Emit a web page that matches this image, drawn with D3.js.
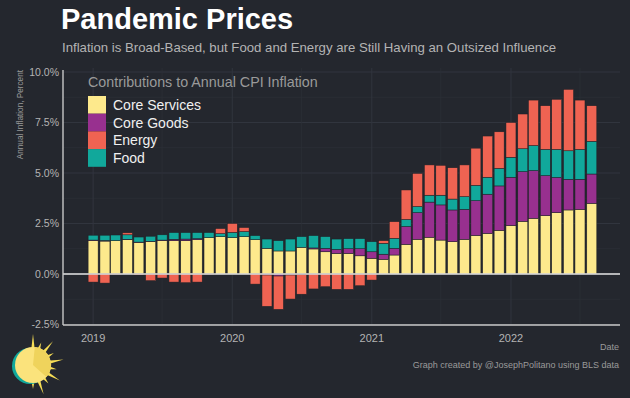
<!DOCTYPE html>
<html>
<head>
<meta charset="utf-8">
<script src="https://cdn.jsdelivr.net/npm/d3@7"></script>
<style>
  html, body { margin: 0; padding: 0; background: #24272e; }
  svg { display: block; font-family: "Liberation Sans", Arial, sans-serif; }
</style>
</head>
<body>
<div id="chart"></div>
<script>
// monthly contributions to YoY CPI, Jan 2019 - Aug 2022
var months = [
  "2019-01","2019-02","2019-03","2019-04","2019-05","2019-06","2019-07","2019-08","2019-09","2019-10","2019-11","2019-12",
  "2020-01","2020-02","2020-03","2020-04","2020-05","2020-06","2020-07","2020-08","2020-09","2020-10","2020-11","2020-12",
  "2021-01","2021-02","2021-03","2021-04","2021-05","2021-06","2021-07","2021-08","2021-09","2021-10","2021-11","2021-12",
  "2022-01","2022-02","2022-03","2022-04","2022-05","2022-06","2022-07","2022-08"
];
var coreServices = [
  1.65,1.63,1.65,1.70,1.56,1.60,1.65,1.65,1.65,1.70,1.80,1.85,
  1.80,1.85,1.70,1.27,1.14,1.14,1.32,1.24,1.10,1.02,1.02,0.90,
  0.78,0.73,0.94,1.47,1.72,1.82,1.68,1.60,1.72,1.91,2.01,2.16,
  2.40,2.61,2.76,2.89,3.04,3.17,3.20,3.50
];
var coreGoods = [
  0.03,0.03,0.00,0.02,0.02,0.02,0.03,0.07,0.08,0.05,0.00,0.00,
  0.00,0.00,0.00,-0.05,-0.10,-0.05,-0.03,0.05,0.17,0.20,0.23,0.35,
  0.32,0.25,0.33,0.88,1.32,1.74,1.74,1.57,1.48,1.72,1.94,2.20,
  2.39,2.46,2.36,1.98,1.74,1.52,1.49,1.45
];
var energy = [
  -0.40,-0.45,-0.02,0.10,-0.05,-0.33,-0.20,-0.40,-0.43,-0.40,-0.02,0.25,
  0.44,0.20,-0.50,-1.55,-1.65,-1.19,-0.97,-0.74,-0.63,-0.76,-0.76,-0.58,
  -0.30,0.13,0.82,1.46,1.64,1.50,1.48,1.55,1.57,1.84,2.04,1.81,
  1.72,1.72,2.25,2.16,2.48,3.04,2.44,1.76
];
var food = [
  0.24,0.26,0.28,0.22,0.25,0.25,0.26,0.33,0.32,0.30,0.25,0.15,
  0.26,0.25,0.20,0.46,0.51,0.59,0.53,0.61,0.58,0.51,0.50,0.50,
  0.50,0.54,0.50,0.35,0.30,0.34,0.48,0.54,0.63,0.76,0.84,0.87,
  0.99,1.13,1.24,1.30,1.39,1.41,1.48,1.62
];
var seriesNames = ["Core Services", "Core Goods", "Energy", "Food"];
var seriesColors = ["#fde98c", "#98308f", "#ef6352", "#11a89b"];
var yTicks = [-2.5, 0, 2.5, 5, 7.5, 10];
var xTickYears = ["2019", "2020", "2021", "2022"];

var W = 630, H = 398;
var bg = "#24272e";
var parse = d3.timeParse("%Y-%m");

var rows = months.map(function (m, i) {
  return {
    date: parse(m),
    "Core Services": coreServices[i],
    "Core Goods": coreGoods[i],
    "Food": food[i],
    "Energy": energy[i]
  };
});

var svg = d3.select("#chart").append("svg")
  .attr("width", W)
  .attr("height", H);

svg.append("rect").attr("width", W).attr("height", H).attr("fill", bg);

var plot = { left: 63, right: 620, top: 68, bottom: 325 };

var x = d3.scaleTime()
  .domain([new Date(2018, 9, 14), new Date(2022, 9, 14)])
  .range([plot.left, plot.right]);

var y = d3.scaleLinear()
  .domain([-2.5, 10])
  .range([324.5, 72]);

// grid
var grid = svg.append("g");
var minorY = d3.range(-2.5, 10.01, 1.25);
grid.selectAll(".hg").data(minorY).enter().append("line")
  .attr("x1", plot.left).attr("x2", plot.right)
  .attr("y1", function (d) { return y(d); })
  .attr("y2", function (d) { return y(d); })
  .attr("stroke", function (d, i) { return i % 2 ? "#2c3038" : "#31353e"; })
  .attr("stroke-width", function (d, i) { return i % 2 ? 0.7 : 1; });

var vDates = [];
for (var yr = 2019; yr <= 2022; yr++) {
  vDates.push({ d: new Date(yr, 0, 1), major: true });
  vDates.push({ d: new Date(yr, 6, 1), major: false });
}
grid.selectAll(".vg").data(vDates).enter().append("line")
  .attr("x1", function (d) { return x(d.d); })
  .attr("x2", function (d) { return x(d.d); })
  .attr("y1", plot.top).attr("y2", plot.bottom)
  .attr("stroke", function (d) { return d.major ? "#31353e" : "#2c3038"; })
  .attr("stroke-width", function (d) { return d.major ? 1 : 0.7; });

// stacked bars
var keys = ["Core Services", "Core Goods", "Food", "Energy"];
var stack = d3.stack().keys(keys).offset(d3.stackOffsetDiverging);
var layers = stack(rows);
var colorOf = d3.scaleOrdinal().domain(seriesNames).range(seriesColors);
var bw = 10;

svg.append("g").selectAll("g").data(layers).enter().append("g")
  .attr("fill", function (d) { return colorOf(d.key); })
  .selectAll("rect").data(function (d) { return d; }).enter().append("rect")
  .attr("x", function (d) { return x(d.data.date) - bw / 2; })
  .attr("width", bw)
  .attr("y", function (d) { return y(Math.max(d[0], d[1])); })
  .attr("height", function (d) { return Math.abs(y(d[0]) - y(d[1])); })
  .attr("stroke", "#1f2126")
  .attr("stroke-width", 0.5);

// zero line
svg.append("line")
  .attr("x1", plot.left).attr("x2", plot.right)
  .attr("y1", y(0)).attr("y2", y(0))
  .attr("stroke", "#e4e4e4").attr("stroke-width", 1.6);

// axes lines
svg.append("line")
  .attr("x1", plot.left).attr("x2", plot.left)
  .attr("y1", plot.top + 2).attr("y2", plot.bottom)
  .attr("stroke", "#c8c8c8").attr("stroke-width", 1.4);
svg.append("line")
  .attr("x1", plot.left).attr("x2", plot.right)
  .attr("y1", plot.bottom).attr("y2", plot.bottom)
  .attr("stroke", "#c8c8c8").attr("stroke-width", 1.4);

// y tick labels
svg.append("g").selectAll("text").data(yTicks).enter().append("text")
  .attr("x", 59)
  .attr("y", function (d) { return y(d); })
  .attr("dy", "0.36em")
  .attr("text-anchor", "end")
  .attr("fill", "#b4b4b4")
  .attr("font-size", 10.5)
  .text(function (d) { return d.toFixed(1) + "%"; });

// x tick labels
svg.append("g").selectAll("text").data(xTickYears).enter().append("text")
  .attr("x", function (d) { return x(new Date(+d, 0, 1)); })
  .attr("y", 338)
  .attr("dy", "0.36em")
  .attr("text-anchor", "middle")
  .attr("fill", "#b4b4b4")
  .attr("font-size", 11)
  .text(function (d) { return d; });

// axis titles
svg.append("text")
  .attr("transform", "translate(23,70) rotate(-90)")
  .attr("text-anchor", "end")
  .attr("fill", "#9a9a9a")
  .attr("font-size", 8.2)
  .text("Annual Inflation, Percent");

svg.append("text")
  .attr("x", 619).attr("y", 350)
  .attr("text-anchor", "end")
  .attr("fill", "#9a9a9a")
  .attr("font-size", 9)
  .text("Date");

svg.append("text")
  .attr("x", 619).attr("y", 368)
  .attr("text-anchor", "end")
  .attr("fill", "#9a9a9a")
  .attr("font-size", 9)
  .text("Graph created by @JosephPolitano using BLS data");

// title and subtitle
svg.append("text")
  .attr("x", 61).attr("y", 29)
  .attr("fill", "#ffffff")
  .attr("font-size", 29)
  .attr("font-weight", "bold")
  .text("Pandemic Prices");

svg.append("text")
  .attr("x", 62).attr("y", 52)
  .attr("fill", "#b4b4b4")
  .attr("font-size", 13.2)
  .text("Inflation is Broad-Based, but Food and Energy are Still Having an Outsized Influence");

// legend
var legend = svg.append("g").attr("transform", "translate(88,96)");
legend.append("text")
  .attr("x", 0).attr("y", -9)
  .attr("fill", "#9a9a9a")
  .attr("font-size", 14.3)
  .text("Contributions to Annual CPI Inflation");
var item = legend.selectAll(".item").data(seriesNames).enter().append("g")
  .attr("transform", function (d, i) { return "translate(0," + (i * 17.7) + ")"; });
item.append("rect")
  .attr("width", 18).attr("height", 17.7)
  .attr("fill", function (d) { return colorOf(d); });
item.append("text")
  .attr("x", 25).attr("y", 9)
  .attr("dy", "0.36em")
  .attr("fill", "#f0f0f0")
  .attr("font-size", 14)
  .text(function (d) { return d; });

// sun logo
var sun = svg.append("g").attr("transform", "translate(33,365)");
var rays = d3.range(-90, 91, 20);
sun.selectAll("path.ray").data(rays).enter().append("path")
  .attr("fill", "#f7de55")
  .attr("d", function (a, i) {
    var r = a * Math.PI / 180;
    var len = (i % 2 ? 24 : 31);
    var w = 0.12;
    var p1 = [Math.cos(r - w) * 15, Math.sin(r - w) * 15];
    var p2 = [Math.cos(r) * len, Math.sin(r) * len];
    var p3 = [Math.cos(r + w) * 15, Math.sin(r + w) * 15];
    return "M" + p1 + "L" + p2 + "L" + p3 + "Z";
  });
sun.append("circle").attr("cx", -3).attr("cy", 1).attr("r", 18).attr("fill", "#11a89b");
sun.append("circle").attr("cx", 0).attr("cy", 0).attr("r", 18).attr("fill", "#fbe37c");
sun.append("path")
  .attr("fill", "#efd35c")
  .attr("d", d3.arc()({ innerRadius: 0, outerRadius: 18, startAngle: 0.1, endAngle: 2.3 }));
</script>
</body>
</html>
